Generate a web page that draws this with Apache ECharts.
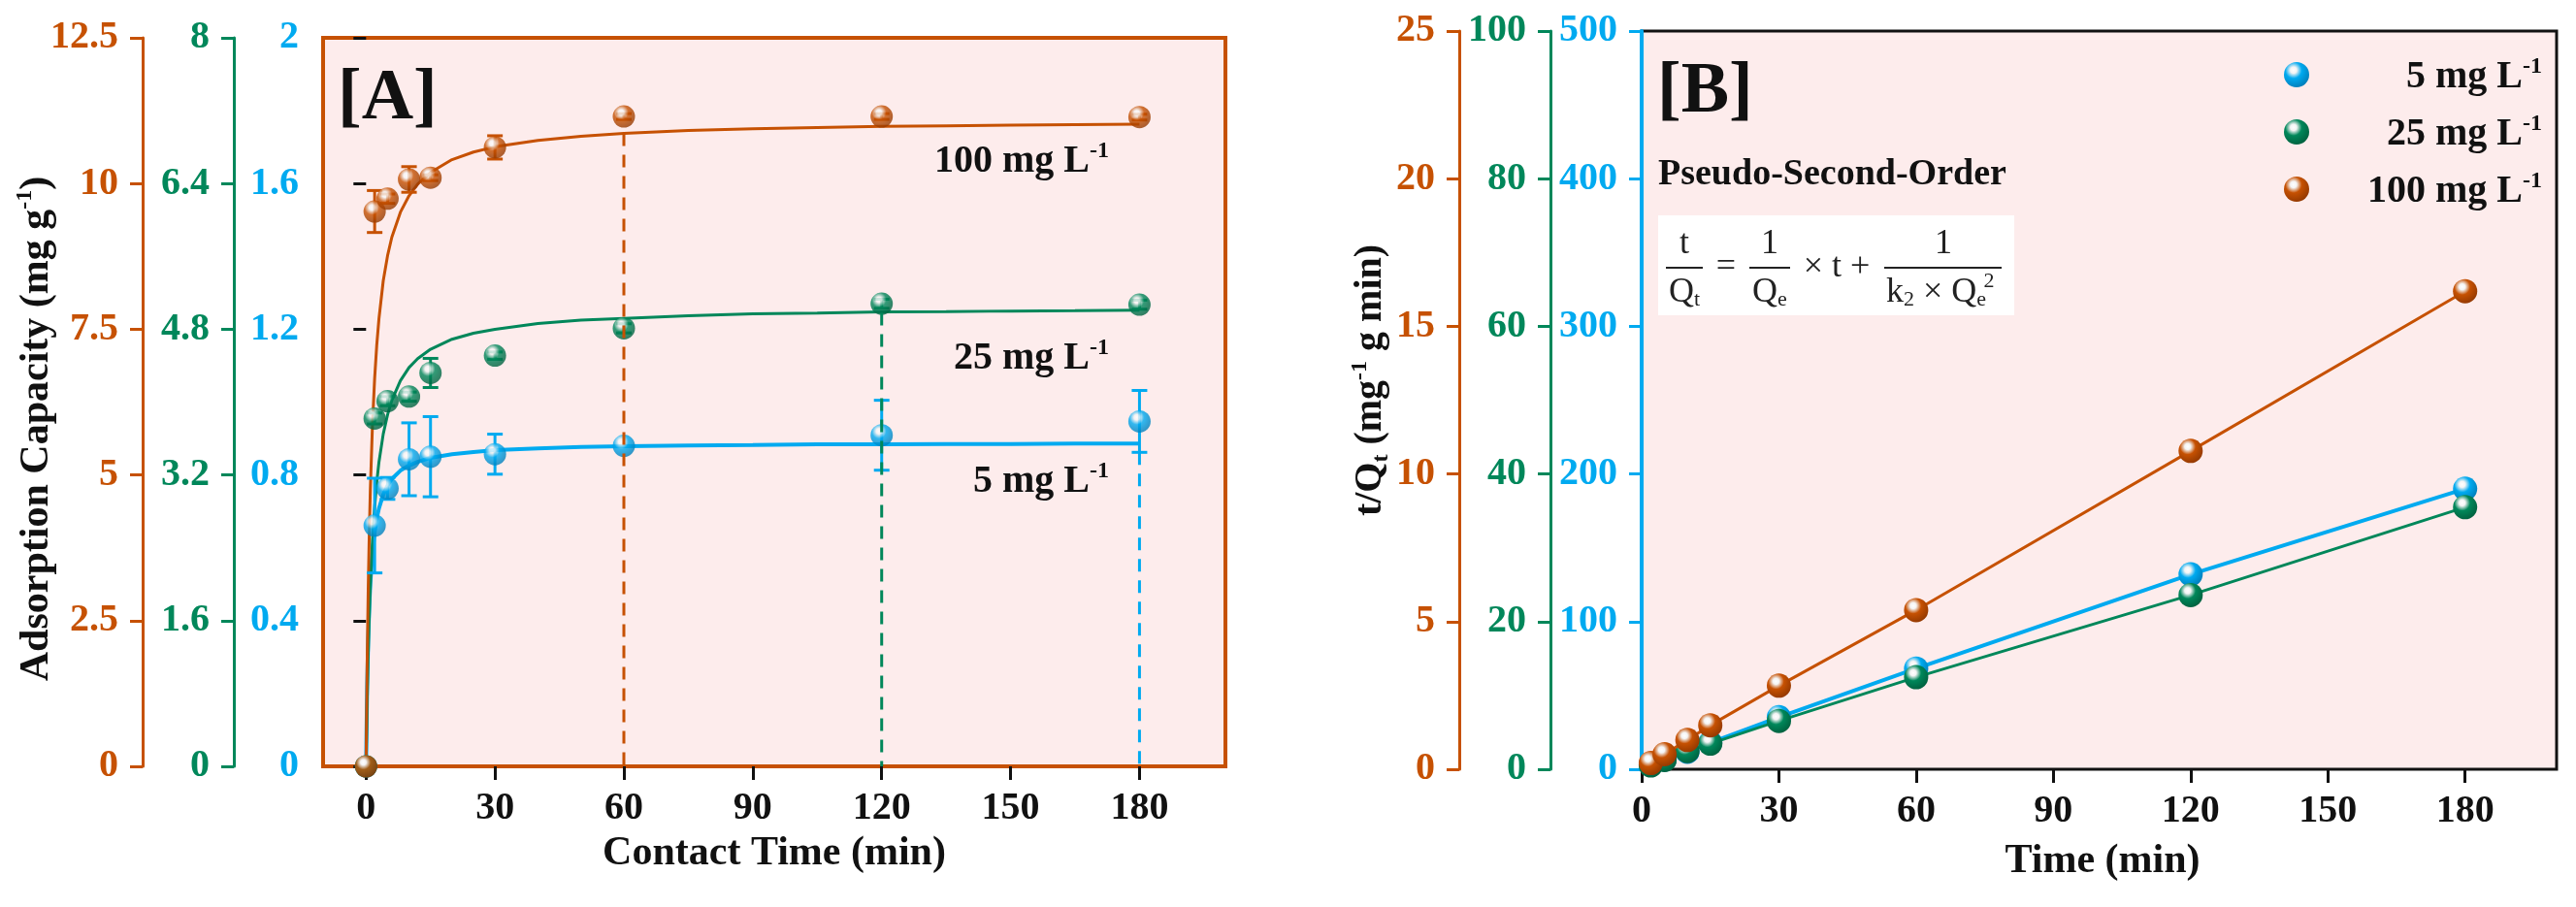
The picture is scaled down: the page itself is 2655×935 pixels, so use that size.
<!DOCTYPE html>
<html><head><meta charset="utf-8">
<script src="https://cdn.jsdelivr.net/npm/echarts@6/dist/echarts.min.js"></script>
<style>html,body{margin:0;padding:0;background:#fff}#c{width:2655px;height:935px}</style>
</head><body><div id="c"></div>
<script>
const ORANGE = '#C65102', GREEN = '#00875A', BLUE = '#00AAF0', PINK = '#FDECEC';
const FONT = '"Liberation Serif", "Times New Roman", serif';

// ---------- Panel A : adsorption capacity vs time ----------
const timeA = [0, 2, 5, 10, 15, 30, 60, 120, 180];
const q5    = [0, 0.661, 0.763, 0.843, 0.850, 0.857, 0.880, 0.909, 0.947];
const q5Err = [0, 0.13, 0.03, 0.10, 0.11, 0.055, 0, 0.096, 0.085];
const q25    = [0, 3.82, 4.01, 4.06, 4.32, 4.51, 4.81, 5.08, 5.07];
const q25Err = [0, 0.06, 0.05, 0.05, 0.16, 0.04, 0.05, 0.05, 0.05];
const q100    = [0, 9.52, 9.74, 10.07, 10.10, 10.62, 11.15, 11.15, 11.14];
const q100Err = [0, 0.36, 0.08, 0.22, 0.05, 0.20, 0.05, 0.05, 0.05];

// fitted (pseudo-second-order) curves
const fitTime = [0, 0.25, 0.5, 0.75, 1, 1.5, 2, 2.5, 3, 4, 5, 6, 8, 10, 12, 15, 20, 25, 30, 40, 50, 60, 75, 90, 105, 120, 135, 150, 165, 180];
const fit5   = [0, 0.218, 0.35, 0.439, 0.503, 0.588, 0.643, 0.681, 0.708, 0.746, 0.771, 0.789, 0.812, 0.826, 0.836, 0.847, 0.857, 0.863, 0.868, 0.873, 0.877, 0.879, 0.881, 0.882, 0.884, 0.884, 0.885, 0.885, 0.886, 0.886];
const fit25  = [0, 0.706, 1.24, 1.655, 1.99, 2.49, 2.85, 3.126, 3.34, 3.65, 3.86, 4.02, 4.235, 4.38, 4.476, 4.58, 4.69, 4.757, 4.80, 4.863, 4.899, 4.92, 4.949, 4.97, 4.977, 4.99, 4.993, 5.00, 5.003, 5.01];
const fit100 = [0, 1.75, 3.03, 4.00, 4.76, 5.88, 6.66, 7.24, 7.68, 8.33, 8.76, 9.08, 9.51, 9.79, 9.99, 10.19, 10.41, 10.54, 10.63, 10.74, 10.81, 10.86, 10.91, 10.94, 10.96, 10.98, 10.99, 11.00, 11.01, 11.02];

// dashed equilibrium markers [time, from, to]
const dash100 = [60, 10.86, 0];
const dash25  = [120, 4.98, 0];
const dash5   = [180, 0.862, 0];

// ---------- Panel B : t/Qt vs time ----------
const timeB = [2, 5, 10, 15, 30, 60, 120, 180];
const tq5   = [3.0, 6.6, 11.9, 18.0, 35.3, 68.2, 132.0, 190.0];
const tq25  = [0.52, 1.25, 2.46, 3.47, 6.55, 12.47, 23.6, 35.5];
const tq100 = [0.21, 0.51, 0.99, 1.49, 2.83, 5.39, 10.78, 16.19];

const tickTimes = [0, 30, 60, 90, 120, 150, 180];
const seriesNames = ['5 mg L', '25 mg L', '100 mg L'];

function zip(a, b) { return a.map((v, i) => [v, b[i]]); }
function errData(t, v, e) {
  const out = [];
  t.forEach((x, i) => { if (e[i] > 0) out.push([x, v[i] - e[i], v[i] + e[i]]); });
  return out;
}
function ball(base, dark) {
  return { type: 'radial', x: 0.38, y: 0.32, r: 0.78, colorStops: [
    { offset: 0, color: '#ffffff' },
    { offset: 0.16, color: '#f4f4f4' },
    { offset: 0.42, color: base },
    { offset: 1, color: dark }] };
}
const BALL = { o: ball(ORANGE, '#8a3400'), g: ball(GREEN, '#005a3a'), b: ball(BLUE, '#0076b0') };

function errRender(color) {
  return function (params, api) {
    const x = api.value(0), lo = api.value(1), hi = api.value(2);
    const p1 = api.coord([x, lo]), p2 = api.coord([x, hi]);
    const w = 8, st = { stroke: color, lineWidth: 3 };
    return { type: 'group', children: [
      { type: 'line', shape: { x1: p1[0], y1: p1[1], x2: p2[0], y2: p2[1] }, style: st },
      { type: 'line', shape: { x1: p1[0] - w, y1: p1[1], x2: p1[0] + w, y2: p1[1] }, style: st },
      { type: 'line', shape: { x1: p2[0] - w, y1: p2[1], x2: p2[0] + w, y2: p2[1] }, style: st }] };
  };
}

const lbl = (c) => ({ color: c, fontFamily: FONT, fontWeight: 'bold', fontSize: 40 });

function yAx(grid, min, max, interval, color, offset, opts) {
  opts = opts || {};
  return {
    type: 'value', gridIndex: grid, min: min, max: max, interval: interval, position: 'left', offset: offset,
    axisLine: { show: opts.line !== false, lineStyle: { color: color, width: opts.lw || 3 } },
    axisTick: { show: true, length: 13, lineStyle: { color: opts.tick || color, width: 3 } },
    axisLabel: Object.assign(lbl(color), { margin: 25 }),
    splitLine: { show: false }
  };
}
function xAx(grid, min) {
  return {
    type: 'value', gridIndex: grid, min: min, max: 200,
    axisLine: { show: false },
    axisTick: { show: true, length: 14, customValues: tickTimes, lineStyle: { color: '#111', width: 3 } },
    axisLabel: Object.assign(lbl('#111'), { margin: 24, customValues: tickTimes }),
    splitLine: { show: false }
  };
}

const sup = { fontFamily: FONT, fontWeight: 'bold', fontSize: 24, lineHeight: 24, verticalAlign: 'top', fill: '#111' };
function labelText(txt, x, y, size) {
  size = size || 40;
  return { type: 'text', x: x, y: y, z: 50, style: {
    text: '{a|' + txt + '}{b|-1}', align: 'right', verticalAlign: 'middle',
    rich: { a: { fontFamily: FONT, fontWeight: 'bold', fontSize: size, lineHeight: size + 6, fill: '#111' }, b: sup } } };
}

const chart = echarts.init(document.getElementById('c'), null, { renderer: 'canvas' });

const eqFont = { fontFamily: FONT, fontSize: 36, fill: '#222' };
const eqSub = { fontFamily: FONT, fontSize: 22, lineHeight: 22, verticalAlign: 'bottom', fill: '#222' };

chart.setOption({
  animation: false,
  backgroundColor: '#ffffff',
  grid: [
    { left: 333, top: 39, width: 930, height: 751, show: true, backgroundColor: PINK, borderColor: ORANGE, borderWidth: 4 },
    { left: 1692, top: 32, width: 943, height: 761, show: true, backgroundColor: PINK, borderColor: '#111', borderWidth: 3 }
  ],
  xAxis: [xAx(0, -10), xAx(1, 0)],
  yAxis: [
    yAx(0, 0, 2, 0.4, BLUE, 0, { line: false, tick: '#111' }),
    yAx(0, 0, 8, 1.6, GREEN, 92),
    yAx(0, 0, 12.5, 2.5, ORANGE, 186),
    yAx(1, 0, 500, 100, BLUE, 0, { lw: 4 }),
    yAx(1, 0, 100, 20, GREEN, 94),
    yAx(1, 0, 25, 5, ORANGE, 188)
  ],
  series: [
    // fitted curves A
    { type: 'line', name: 'fit5', xAxisIndex: 0, yAxisIndex: 0, data: zip(fitTime, fit5), smooth: false, showSymbol: false, silent: true, lineStyle: { color: BLUE, width: 4 }, z: 2 },
    { type: 'line', name: 'fit25', xAxisIndex: 0, yAxisIndex: 1, data: zip(fitTime, fit25), smooth: false, showSymbol: false, silent: true, lineStyle: { color: GREEN, width: 3 }, z: 2 },
    { type: 'line', name: 'fit100', xAxisIndex: 0, yAxisIndex: 2, data: zip(fitTime, fit100), smooth: false, showSymbol: false, silent: true, lineStyle: { color: ORANGE, width: 3 }, z: 2 },
    // error bars A
    { type: 'custom', xAxisIndex: 0, yAxisIndex: 0, data: errData(timeA, q5, q5Err), renderItem: errRender(BLUE), z: 3, silent: true },
    { type: 'custom', xAxisIndex: 0, yAxisIndex: 1, data: errData(timeA, q25, q25Err), renderItem: errRender(GREEN), z: 3, silent: true },
    { type: 'custom', xAxisIndex: 0, yAxisIndex: 2, data: errData(timeA, q100, q100Err), renderItem: errRender(ORANGE), z: 3, silent: true },
    // points A
    { type: 'scatter', name: seriesNames[0], xAxisIndex: 0, yAxisIndex: 0, data: zip(timeA, q5), symbolSize: 23, itemStyle: { color: BALL.b }, z: 4 },
    { type: 'scatter', name: seriesNames[1], xAxisIndex: 0, yAxisIndex: 1, data: zip(timeA, q25), symbolSize: 23, itemStyle: { color: BALL.g }, z: 4 },
    { type: 'scatter', name: seriesNames[2], xAxisIndex: 0, yAxisIndex: 2, data: zip(timeA, q100), symbolSize: 23, itemStyle: { color: BALL.o }, z: 5 },
    // dashed markers A
    { type: 'line', xAxisIndex: 0, yAxisIndex: 2, data: [[dash100[0], dash100[1]], [dash100[0], dash100[2]]], showSymbol: false, silent: true, lineStyle: { color: ORANGE, width: 3, type: [13, 9] }, z: 6 },
    { type: 'line', xAxisIndex: 0, yAxisIndex: 1, data: [[dash25[0], dash25[1]], [dash25[0], dash25[2]]], showSymbol: false, silent: true, lineStyle: { color: GREEN, width: 3, type: [13, 9] }, z: 6 },
    { type: 'line', xAxisIndex: 0, yAxisIndex: 0, data: [[dash5[0], dash5[1]], [dash5[0], dash5[2]]], showSymbol: false, silent: true, lineStyle: { color: BLUE, width: 3, type: [13, 9] }, z: 6 },
    // panel B
    { type: 'line', name: 'B' + seriesNames[0], xAxisIndex: 1, yAxisIndex: 3, data: zip(timeB, tq5), symbol: 'circle', symbolSize: 25, itemStyle: { color: BALL.b }, lineStyle: { color: BLUE, width: 4 }, z: 4 },
    { type: 'line', name: 'B' + seriesNames[1], xAxisIndex: 1, yAxisIndex: 4, data: zip(timeB, tq25), symbol: 'circle', symbolSize: 25, itemStyle: { color: BALL.g }, lineStyle: { color: GREEN, width: 3 }, z: 5 },
    { type: 'line', name: 'B' + seriesNames[2], xAxisIndex: 1, yAxisIndex: 5, data: zip(timeB, tq100), symbol: 'circle', symbolSize: 25, itemStyle: { color: BALL.o }, lineStyle: { color: ORANGE, width: 3 }, z: 6 }
  ],
  graphic: [
    // axis titles
    { type: 'text', x: 38, y: 442, rotation: Math.PI / 2, style: { text: '{a|Adsorption Capacity (mg g}{b|-1}{a|)}', align: 'center', verticalAlign: 'middle',
      rich: { a: { fontFamily: FONT, fontWeight: 'bold', fontSize: 42, lineHeight: 48, fill: '#111' }, b: sup } } },
    { type: 'text', x: 1413, y: 392, rotation: Math.PI / 2, style: { text: '{a|t/Q}{c|t}{a| (mg}{b|-1}{a| g min)}', align: 'center', verticalAlign: 'middle',
      rich: { a: { fontFamily: FONT, fontWeight: 'bold', fontSize: 40, lineHeight: 46, fill: '#111' }, b: sup,
        c: { fontFamily: FONT, fontWeight: 'bold', fontSize: 24, lineHeight: 24, verticalAlign: 'bottom', fill: '#111' } } } },
    { type: 'text', x: 798, y: 880, style: { text: 'Contact Time (min)', align: 'center', verticalAlign: 'middle', fontFamily: FONT, fontWeight: 'bold', fontSize: 42, fill: '#111' } },
    { type: 'text', x: 2167, y: 888, style: { text: 'Time (min)', align: 'center', verticalAlign: 'middle', fontFamily: FONT, fontWeight: 'bold', fontSize: 42, fill: '#111' } },
    // panel tags
    { type: 'text', x: 348, y: 103, style: { text: '[A]', align: 'left', verticalAlign: 'middle', fontFamily: FONT, fontWeight: 'bold', fontSize: 74, fill: '#111' } },
    { type: 'text', x: 1708, y: 96, style: { text: '[B]', align: 'left', verticalAlign: 'middle', fontFamily: FONT, fontWeight: 'bold', fontSize: 74, fill: '#111' } },
    // curve labels A
    labelText('100 mg L', 1143, 167),
    labelText('25 mg L', 1143, 370),
    labelText('5 mg L', 1143, 497),
    // legend B
    { type: 'circle', shape: { cx: 2367, cy: 77, r: 13 }, style: { fill: BALL.b }, z: 50 },
    { type: 'circle', shape: { cx: 2367, cy: 136, r: 13 }, style: { fill: BALL.g }, z: 50 },
    { type: 'circle', shape: { cx: 2367, cy: 195, r: 13 }, style: { fill: BALL.o }, z: 50 },
    labelText(seriesNames[0], 2620, 80),
    labelText(seriesNames[1], 2620, 139),
    labelText(seriesNames[2], 2620, 198),
    // model text
    { type: 'text', x: 1709, y: 180, style: { text: 'Pseudo-Second-Order', align: 'left', verticalAlign: 'middle', fontFamily: FONT, fontWeight: 'bold', fontSize: 38, fill: '#111' } },
    { type: 'rect', shape: { x: 1709, y: 222, width: 367, height: 103 }, style: { fill: '#ffffff' }, z: 40 },
    { type: 'text', x: 1736, y: 252, z: 41, style: Object.assign({ text: 't', align: 'center', verticalAlign: 'middle' }, eqFont) },
    { type: 'line', shape: { x1: 1717, y1: 276, x2: 1755, y2: 276 }, style: { stroke: '#222', lineWidth: 2 }, z: 41 },
    { type: 'text', x: 1736, y: 302, z: 41, style: { text: '{a|Q}{s|t}', align: 'center', verticalAlign: 'middle', rich: { a: eqFont, s: eqSub } } },
    { type: 'text', x: 1779, y: 276, z: 41, style: Object.assign({ text: '=', align: 'center', verticalAlign: 'middle' }, eqFont) },
    { type: 'text', x: 1824, y: 252, z: 41, style: Object.assign({ text: '1', align: 'center', verticalAlign: 'middle' }, eqFont) },
    { type: 'line', shape: { x1: 1803, y1: 276, x2: 1845, y2: 276 }, style: { stroke: '#222', lineWidth: 2 }, z: 41 },
    { type: 'text', x: 1824, y: 302, z: 41, style: { text: '{a|Q}{s|e}', align: 'center', verticalAlign: 'middle', rich: { a: eqFont, s: eqSub } } },
    { type: 'text', x: 1893, y: 276, z: 41, style: Object.assign({ text: '× t +', align: 'center', verticalAlign: 'middle' }, eqFont) },
    { type: 'text', x: 2003, y: 252, z: 41, style: Object.assign({ text: '1', align: 'center', verticalAlign: 'middle' }, eqFont) },
    { type: 'line', shape: { x1: 1942, y1: 276, x2: 2063, y2: 276 }, style: { stroke: '#222', lineWidth: 2 }, z: 41 },
    { type: 'text', x: 1944, y: 302, z: 41, style: { text: '{a|k}{s|2}{a| × Q}{s|e}', align: 'left', verticalAlign: 'middle', rich: { a: eqFont, s: eqSub } } },
    { type: 'text', x: 2050, y: 290, z: 41, style: { text: '2', align: 'center', verticalAlign: 'middle', fontFamily: FONT, fontSize: 22, fill: '#222' } }
  ]
});
</script></body></html>
